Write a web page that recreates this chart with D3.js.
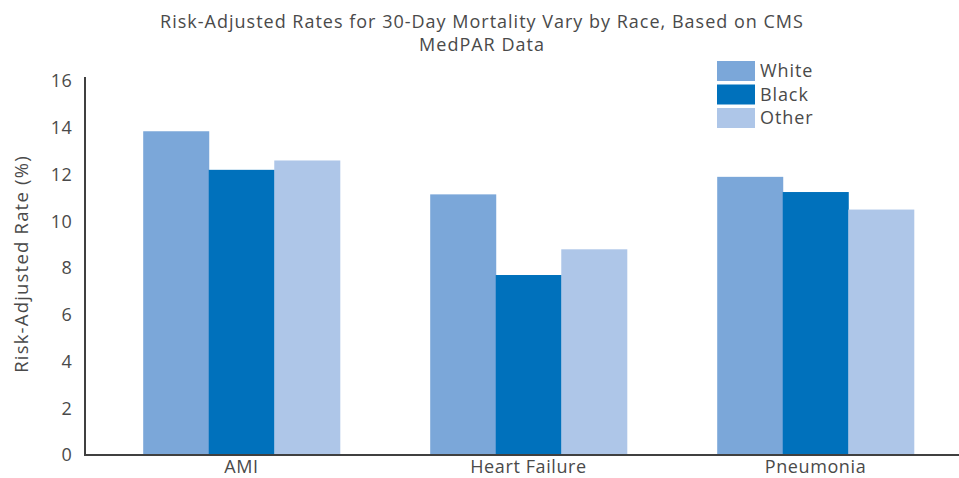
<!DOCTYPE html>
<html>
<head>
<meta charset="utf-8">
<script src="https://cdn.jsdelivr.net/npm/d3@7"></script>
<style>
  body { margin: 0; background: #fff; }
  text { font-family: "Open Sans", Lato, sans-serif; fill: #4a4a4a; }
</style>
</head>
<body>
<svg width="959" height="478"></svg>
<script>
const categories = ["AMI", "Heart Failure", "Pneumonia"];
const races = ["White", "Black", "Other"];
const white = [13.85, 11.15, 11.9];
const black = [12.2, 7.7, 11.25];
const other = [12.6, 8.8, 10.5];
const yTicks = [0, 2, 4, 6, 8, 10, 12, 14, 16];
const colors = ["#7ba7d9", "#0071bc", "#aec6e8"];

const series = [white, black, other];
const svg = d3.select("svg");

const x = d3.scaleBand().domain(categories).range([98, 959])
  .paddingInner(0.315).paddingOuter(0.1575);
const xi = d3.scaleBand().domain(races).range([0, x.bandwidth()]);
const y = d3.scaleLinear().domain([0, 16]).range([455, 81]);
const color = d3.scaleOrdinal().domain(races).range(colors);

// bars
const groups = svg.selectAll(".grp")
  .data(categories)
  .enter().append("g")
  .attr("transform", d => `translate(${x(d)},0)`);

groups.selectAll("rect")
  .data((c, i) => races.map((r, j) => ({ race: r, value: series[j][i] })))
  .enter().append("rect")
  .attr("x", d => xi(d.race))
  .attr("width", xi.bandwidth() + 0.5)
  .attr("y", d => y(d.value))
  .attr("height", d => y(0) - y(d.value))
  .attr("fill", d => color(d.race));

// y axis
const yAxis = svg.append("g")
  .attr("transform", "translate(85,0)")
  .call(d3.axisLeft(y).tickValues(yTicks).tickSize(0).tickPadding(13));
yAxis.select(".domain").remove();
yAxis.selectAll("text").style("font-size", "18px").style("letter-spacing", "0.3px").attr("fill", "#4a4a4a");

svg.append("line")
  .attr("x1", 85).attr("x2", 85).attr("y1", 77).attr("y2", 455)
  .attr("stroke", "#404040").attr("stroke-width", 2);

// x axis
const xAxis = svg.append("g")
  .attr("transform", "translate(0,455)")
  .call(d3.axisBottom(x).tickSize(0).tickPadding(5));
xAxis.select(".domain").remove();
xAxis.selectAll("text").style("font-size", "18px").style("letter-spacing", "0.6px").attr("fill", "#4a4a4a");

svg.append("line")
  .attr("x1", 84).attr("x2", 959).attr("y1", 455).attr("y2", 455)
  .attr("stroke", "#404040").attr("stroke-width", 2);

// title
svg.append("text")
  .attr("x", 482).attr("y", 28)
  .attr("text-anchor", "middle")
  .style("font-size", "18px").style("letter-spacing", "1px")
  .text("Risk-Adjusted Rates for 30-Day Mortality Vary by Race, Based on CMS");
svg.append("text")
  .attr("x", 482).attr("y", 51)
  .attr("text-anchor", "middle")
  .style("font-size", "18px").style("letter-spacing", "1px")
  .text("MedPAR Data");

// y label
svg.append("text")
  .attr("transform", "translate(28,264) rotate(-90)")
  .attr("text-anchor", "middle")
  .style("font-size", "18.5px").style("letter-spacing", "1.2px")
  .text("Risk-Adjusted Rate (%)");

// legend
const legend = svg.selectAll(".legend")
  .data(races)
  .enter().append("g")
  .attr("transform", (d, i) => `translate(717,${61 + i * 23.5})`);
legend.append("rect")
  .attr("width", 38).attr("height", 20)
  .attr("fill", d => color(d));
legend.append("text")
  .attr("x", 43).attr("y", 16)
  .style("font-size", "18px").style("letter-spacing", "0.9px")
  .text(d => d);
</script>
</body>
</html>
